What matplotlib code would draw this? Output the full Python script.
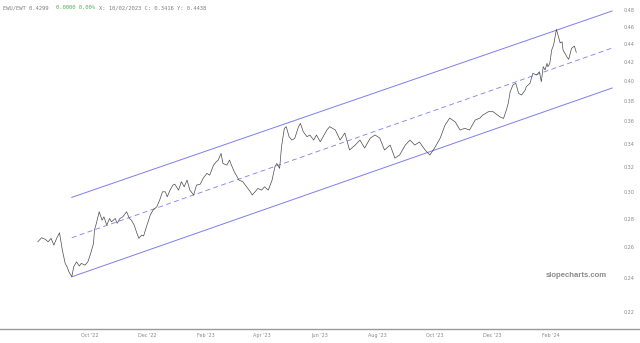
import numpy as np
import pandas as pd
import matplotlib
matplotlib.use("Agg")
import matplotlib.pyplot as plt
from matplotlib.ticker import FixedLocator, NullLocator
from matplotlib.lines import Line2D

# EWU/EWT ratio: days after first bar, value
start_date = pd.Timestamp("2022-08-05")
day = [
    2, 6, 10, 13, 16, 19, 22, 25, 28, 31, 33, 35, 38, 40, 43, 46, 48, 52, 55, 58,
    61, 62, 64, 67, 70, 72, 75, 78, 80, 84, 86, 89, 92, 96, 99, 101, 104, 107, 109, 112,
    114, 117, 121, 124, 128, 131, 134, 137, 139, 142, 145, 147, 151, 154, 157, 160, 163, 167, 170, 174,
    177, 181, 184, 188, 191, 193, 196, 198, 202, 205, 207, 210, 212, 215, 219, 223, 227, 229, 232, 235,
    239, 242, 246, 250, 253, 255, 258, 260, 263, 265, 268, 271, 274, 278, 280, 283, 287, 290, 294, 297,
    301, 304, 308, 311, 317, 322, 327, 332, 338, 343, 348, 354, 359, 364, 369, 375, 380, 385, 391, 396,
    401, 406, 412, 417, 422, 428, 433, 438, 444, 449, 454, 459, 465, 470, 473, 479, 484, 491, 495, 498,
    500, 502, 505, 508, 511, 514, 518, 519, 523, 526, 530, 533, 535, 537, 539, 541, 542, 544, 546, 548,
    551, 555, 557, 558, 562, 564, 567, 570, 572,
]
ratio = [
    0.2638, 0.2666, 0.2655, 0.2638, 0.2662, 0.2616, 0.2662, 0.2700, 0.2582, 0.2495,
    0.2473, 0.2441, 0.2410, 0.2473, 0.2505, 0.2478, 0.2495, 0.2484, 0.2505, 0.2560,
    0.2628, 0.2719, 0.2767, 0.2851, 0.2790, 0.2814, 0.2755, 0.2802, 0.2778, 0.2802,
    0.2767, 0.2802, 0.2814, 0.2851, 0.2802, 0.2790, 0.2755, 0.2696, 0.2662, 0.2684,
    0.2678, 0.2742, 0.2826, 0.2863, 0.2888, 0.2938, 0.3002, 0.3002, 0.2963, 0.3015,
    0.3054, 0.3062, 0.3015, 0.3081, 0.3041, 0.3094, 0.3015, 0.2977, 0.3054, 0.3062,
    0.3108, 0.3148, 0.3134, 0.3216, 0.3244, 0.3258, 0.3315, 0.3230, 0.3216, 0.3258,
    0.3216, 0.3161, 0.3134, 0.3094, 0.3081, 0.3041, 0.3002, 0.2977, 0.3002, 0.3028,
    0.3015, 0.3041, 0.3015, 0.3094, 0.3202, 0.3230, 0.3189, 0.3373, 0.3537, 0.3552,
    0.3461, 0.3431, 0.3446, 0.3552, 0.3582, 0.3506, 0.3461, 0.3476, 0.3431, 0.3476,
    0.3416, 0.3461, 0.3521, 0.3552, 0.3521, 0.3431, 0.3494, 0.3344, 0.3387, 0.3431,
    0.3361, 0.3449, 0.3476, 0.3449, 0.3344, 0.3387, 0.3275, 0.3301, 0.3387, 0.3431,
    0.3387, 0.3414, 0.3344, 0.3301, 0.3361, 0.3449, 0.3565, 0.3632, 0.3594, 0.3521,
    0.3537, 0.3521, 0.3613, 0.3632, 0.3660, 0.3692, 0.3692, 0.3644, 0.3628, 0.3708,
    0.3773, 0.3887, 0.3956, 0.3973, 0.3871, 0.3854, 0.3905, 0.3938, 0.3973, 0.4077,
    0.4059, 0.4094, 0.3989, 0.4147, 0.4112, 0.4183, 0.4147, 0.4183, 0.4330, 0.4386,
    0.4567, 0.4409, 0.4423, 0.4330, 0.4255, 0.4227, 0.4349, 0.4374, 0.4304,
]

# regression channel: first and last day, value of each line
chan_day = [38, 610]
upper = [0.2959, 0.4789]
middle = [0.2666, 0.4352]
lower = [0.2410, 0.3925]

y_ticks = [0.22, 0.24, 0.26, 0.28, 0.30, 0.32, 0.34, 0.36, 0.38, 0.40,
           0.42, 0.44, 0.46, 0.48]
x_ticks = ["2022-10-01", "2022-12-01", "2023-02-01", "2023-04-01", "2023-06-01",
           "2023-08-01", "2023-10-01", "2023-12-01", "2024-02-01"]
x_labels = ["Oct '22", "Dec '22", "Feb '23", "Apr '23", "Jun '23",
            "Aug '23", "Oct '23", "Dec '23", "Feb '24"]

dates = start_date + pd.to_timedelta(day, unit="D")
cd = start_date + pd.to_timedelta(chan_day, unit="D")

fig = plt.figure(figsize=(6.4, 3.43), dpi=100)
ax = fig.add_axes([0, 14 / 343, 615 / 640, 329 / 343])

chan_color = "#7d7df0"
ax.plot(cd, upper, color=chan_color, lw=0.7)
ax.plot(cd, lower, color=chan_color, lw=0.7)
ax.plot(cd, middle, color=chan_color, lw=0.6, ls=(0, (6, 4)))
ax.plot(dates, ratio, color="#4a4a4a", lw=0.5)

ax.set_yscale("log")
ax.set_ylim(0.2106, 0.4927)
ax.set_xlim(start_date - pd.Timedelta(days=38), start_date + pd.Timedelta(days=613))
ax.yaxis.set_major_locator(FixedLocator(y_ticks))
ax.yaxis.set_minor_locator(NullLocator())
ax.set_yticklabels([f"{v:.2f}" for v in y_ticks])
ax.yaxis.tick_right()
ax.set_xticks(pd.to_datetime(x_ticks))
ax.set_xticklabels(x_labels)
ax.tick_params(axis="both", length=0, labelsize=3.5, labelcolor="#888888")
ax.tick_params(axis="y", pad=6)
ax.tick_params(axis="x", pad=3)
for s in ax.spines.values():
    s.set_visible(False)

# bottom rule across the whole figure
fig.add_artist(Line2D([0, 1], [14 / 343, 14 / 343], color="#999999", lw=1.0))

fig.text(0.005, 0.985, "EWU/EWT 0.4299", fontsize=4, color="#808080",
         family="DejaVu Sans Mono", va="top")
fig.text(0.088, 0.985, "0.0000 0.00%", fontsize=4, color="#4caf50",
         family="DejaVu Sans Mono", va="top")
fig.text(0.155, 0.985, "X: 10/02/2023 C: 0.3416 Y: 0.4438", fontsize=4,
         color="#808080", family="DejaVu Sans Mono", va="top")
fig.text(0.9, 0.198, "slopecharts.com", fontsize=5.6, color="#8a8a8a",
         family="Liberation Sans", weight="bold", ha="center", va="center")

fig.savefig("out.png", dpi=100)
